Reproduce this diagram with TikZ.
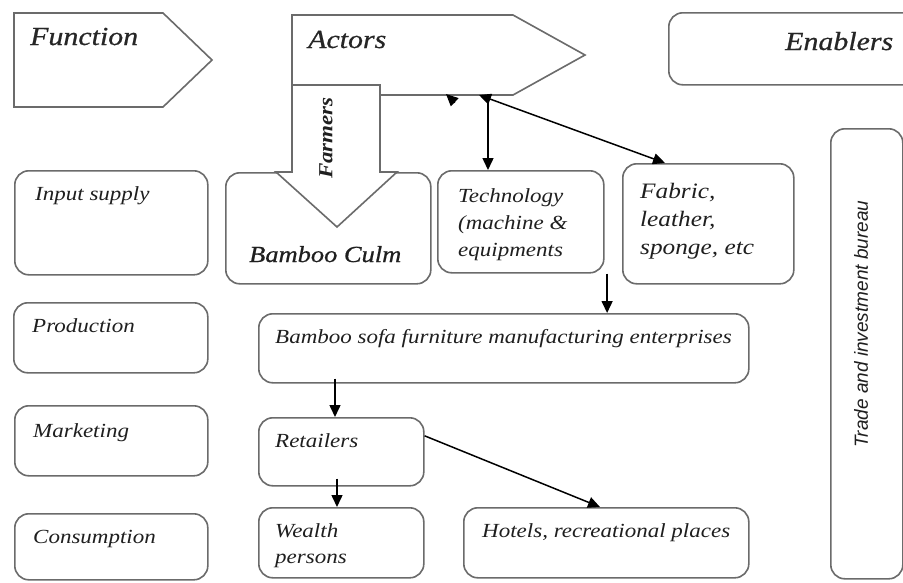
\documentclass[tikz,border=0pt]{standalone}
\usepackage{fontspec}
\setmainfont{Liberation Serif}[FakeStretch=1.15]
\newfontfamily\heavyserif{Liberation Serif}[FakeStretch=1.15, FakeBold=0.7]
\setsansfont{Liberation Sans}
\usetikzlibrary{arrows.meta}
\begin{document}
\begin{tikzpicture}[x=1pt,y=-1pt,
  outline/.style={draw=black!58, line width=1.6pt},
  box/.style={outline, rounded corners=14pt, fill=white, inner sep=0pt, anchor=north west},
  txt/.style={inner sep=0pt, anchor=base west, text=black!88, font=\itshape\fontsize{20}{27}\selectfont, align=left},
  title/.style={txt, text=black!85, font=\heavyserif\itshape\fontsize{26}{30}\selectfont},
  conn/.style={-{Triangle[length=12pt,width=11pt]}, line width=1.5pt, black}]
\useasboundingbox (0,0) rectangle (903,582);
\fill[white] (0,0) rectangle (903,582);
\clip (0,0) rectangle (903,582);

% header arrows
\draw[outline, line join=miter] (14,13) -- (163,13) -- (212,60) -- (163,107) -- (14,107) -- cycle;
\draw[outline, line join=miter, fill=white] (292,15) -- (513,15) -- (585,55) -- (513,95) -- (292,95) -- cycle;
\coordinate (actfoot) at (479,95);
\node[box, minimum width=260pt, minimum height=72pt] (enab) at (668,12) {};

% function column
\node[box, minimum width=193pt, minimum height=104pt] (inp) at (14,170) {};
\node[box, minimum width=194pt, minimum height=70pt] (prod) at (13,302) {};
\node[box, minimum width=193pt, minimum height=70pt] (mkt) at (14,405) {};
\node[box, minimum width=193pt, minimum height=66pt] (cons) at (14,513) {};

% actors
\node[box, minimum width=205pt, minimum height=111pt] (culm) at (225,172) {};
\node[box, minimum width=166pt, minimum height=102pt] (tech) at (437,170) {};
\node[box, minimum width=171pt, minimum height=120pt] (fabric) at (622,163) {};
\node[box, minimum width=490pt, minimum height=69pt] (sofa) at (258,313) {};
\node[box, minimum width=165pt, minimum height=68pt] (retail) at (258,417) {};
\node[box, minimum width=165pt, minimum height=70pt] (wealth) at (258,507) {};
\node[box, minimum width=285pt, minimum height=70pt] (hotels) at (463,507) {};

% enabler
\node[box, minimum width=72pt, minimum height=450pt] (trade) at (830,128) {};

% farmers block arrow
\draw[outline, fill=white, line join=miter] (292,85) -- (380,85) -- (380,172) -- (397,172)
  -- (337,227) -- (276,172) -- (292,172) -- cycle;

% labels (multi-line labels are placed by the baseline of their last line)
\node[title] (functxt) at (30,45) {Function};
\node[title] (acttxt) at (308,48) {Actors};
\node[title] (enabtxt) at (785,50) {Enablers};
\node[txt] (inptxt) at (35,200) {Input supply};
\node[txt] (prodtxt) at (32,332) {Production};
\node[txt] (mkttxt) at (33,437) {Marketing};
\node[txt] (constxt) at (33,543) {Consumption};
\node[txt, font=\heavyserif\itshape\fontsize{23}{28}\selectfont] (culmtxt) at (249,262) {Bamboo Culm};
\node[txt] (techtxt) at (458,256) {Technology\\(machine \&\\equipments};
\node[txt, font=\itshape\fontsize{22}{28}\selectfont] (fabrictxt) at (640,254) {Fabric,\\leather,\\sponge, etc};
\node[txt] (sofatxt) at (275,343) {Bamboo sofa furniture manufacturing enterprises};
\node[txt] (retailtxt) at (275,447) {Retailers};
\node[txt, font=\itshape\fontsize{20}{26}\selectfont] (wealthtxt) at (275,563) {Wealth\\persons};
\node[txt] (hotelstxt) at (482,537) {Hotels, recreational places};
\node[txt, anchor=center, rotate=90, font=\bfseries\itshape\fontsize{20}{24}\selectfont] (farmtxt) at (326,138) {Farmers};
\node[txt, anchor=center, rotate=90, font=\sffamily\itshape\fontsize{19}{24}\selectfont] (tradetxt) at (861,324) {Trade and investment bureau};

% connectors
\coordinate (techtop) at ([xshift=51pt]tech.north west);
\coordinate (stray) at (446,94);
\draw[conn] ([shift={(9pt,-8.5pt)}]stray) -- (stray);
\draw[conn, {Triangle[length=12pt,width=11pt]}-{Triangle[length=12pt,width=11pt]}]
  (actfoot) -- ([xshift=43pt]fabric.north west);
\draw[conn] (techtop |- actfoot) -- (techtop);
\draw[conn] ([xshift=2.5pt]tech.south east) -- ([xshift=2.5pt]tech.south east |- sofa.north);
\draw[conn] ([xshift=77pt,yshift=5pt]sofa.south west) -- ([xshift=77pt]retail.north west);
\draw[conn] ([xshift=79pt,yshift=8pt]retail.south west) -- ([xshift=79pt]wealth.north west);
\draw[conn] ([yshift=16pt]retail.east) -- ([xshift=137pt]hotels.north west);
\end{tikzpicture}
\end{document}
